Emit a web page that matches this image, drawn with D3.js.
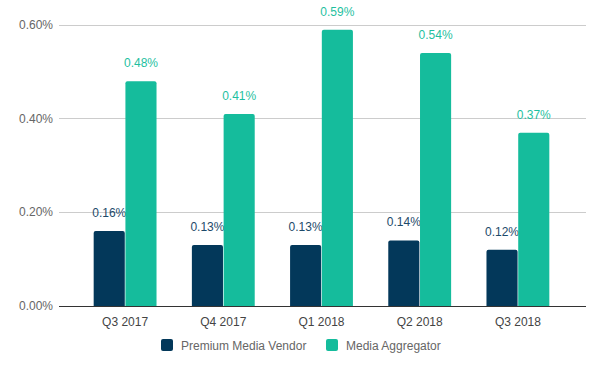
<!DOCTYPE html>
<html>
<head>
<meta charset="utf-8">
<script src="https://cdn.jsdelivr.net/npm/d3@7"></script>
<style>
  body { margin: 0; background: #fff; }
  text { font-family: Arial, "Liberation Sans", sans-serif; }
</style>
</head>
<body>
<div id="viz"></div>
<script>
quarters = ['Q3 2017', 'Q4 2017', 'Q1 2018', 'Q2 2018', 'Q3 2018'];
premium = [0.16, 0.13, 0.13, 0.14, 0.12];
aggregator = [0.48, 0.41, 0.59, 0.54, 0.37];
seriesNames = ['Premium Media Vendor', 'Media Aggregator'];
yTicks = [0, 0.2, 0.4, 0.6];
colors = ['#03385a', '#15bc9c'];
labelColors = ['#1d4a6a', '#1fbf9f'];

width = 604;
height = 371;

svg = d3.select('#viz').append('svg')
  .attr('width', width)
  .attr('height', height);

yScale = d3.scaleLinear().domain([0, 0.6]).range([306, 25]);

xScale = d3.scaleBand()
  .domain(quarters)
  .range([76, 567])
  .paddingInner(0.36)
  .paddingOuter(0.18);

inner = d3.scaleBand()
  .domain([0, 1])
  .range([0, xScale.bandwidth()])
  .paddingInner(0.02);

// gridlines
svg.append('g').selectAll('line')
  .data(yTicks.slice(1))
  .enter()
  .append('line')
  .attr('x1', 59)
  .attr('x2', 586)
  .attr('y1', d => yScale(d))
  .attr('y2', d => yScale(d))
  .attr('stroke', '#cccccc')
  .attr('stroke-width', 1)
  .attr('shape-rendering', 'crispEdges');

// y labels
svg.append('g').selectAll('text')
  .data(yTicks)
  .enter()
  .append('text')
  .attr('x', 53)
  .attr('y', d => yScale(d) + 4)
  .attr('text-anchor', 'end')
  .attr('font-size', 12)
  .attr('fill', '#666')
  .text(d => d.toFixed(2) + '%');

data = [premium, aggregator];

groups = svg.selectAll('g.series')
  .data(data)
  .enter()
  .append('g')
  .attr('class', 'series');

groups.selectAll('rect')
  .data((d, s) => d.map((v, i) => ({ v: v, q: quarters[i], s: s })))
  .enter()
  .append('path')
  .attr('fill', d => colors[d.s])
  .attr('d', function(d) {
    var x = xScale(d.q) + inner(d.s), w = inner.bandwidth();
    var y = yScale(d.v), b = yScale(0), r = 2;
    return 'M' + x + ',' + b + 'V' + (y + r) + 'Q' + x + ',' + y + ' ' + (x + r) + ',' + y +
      'H' + (x + w - r) + 'Q' + (x + w) + ',' + y + ' ' + (x + w) + ',' + (y + r) + 'V' + b + 'Z';
  });

groups.selectAll('text')
  .data((d, s) => d.map((v, i) => ({ v: v, q: quarters[i], s: s })))
  .enter()
  .append('text')
  .attr('x', d => xScale(d.q) + inner(d.s) + inner.bandwidth() / 2)
  .attr('y', d => yScale(d.v) - 14)
  .attr('text-anchor', 'middle')
  .attr('font-size', 12)
  .attr('fill', d => labelColors[d.s])
  .text(d => d.v.toFixed(2) + '%');

// baseline
svg.append('line')
  .attr('x1', 59)
  .attr('x2', 586)
  .attr('y1', yScale(0))
  .attr('y2', yScale(0))
  .attr('stroke', '#333')
  .attr('stroke-width', 1)
  .attr('shape-rendering', 'crispEdges');

// x labels
svg.append('g').selectAll('text')
  .data(quarters)
  .enter()
  .append('text')
  .attr('x', d => xScale(d) + xScale.bandwidth() / 2)
  .attr('y', 326)
  .attr('text-anchor', 'middle')
  .attr('font-size', 12)
  .attr('fill', '#444')
  .text(d => d);

// legend
legendX = [161, 326];
legend = svg.selectAll('g.legend')
  .data(seriesNames)
  .enter()
  .append('g')
  .attr('class', 'legend')
  .attr('transform', (d, i) => 'translate(' + legendX[i] + ',339)');

legend.append('rect')
  .attr('width', 12)
  .attr('height', 12)
  .attr('rx', 2)
  .attr('fill', (d, i) => colors[i]);

legend.append('text')
  .attr('x', 20)
  .attr('y', 10.5)
  .attr('font-size', 12)
  .attr('fill', '#666')
  .text(d => d);
</script>
</body>
</html>
